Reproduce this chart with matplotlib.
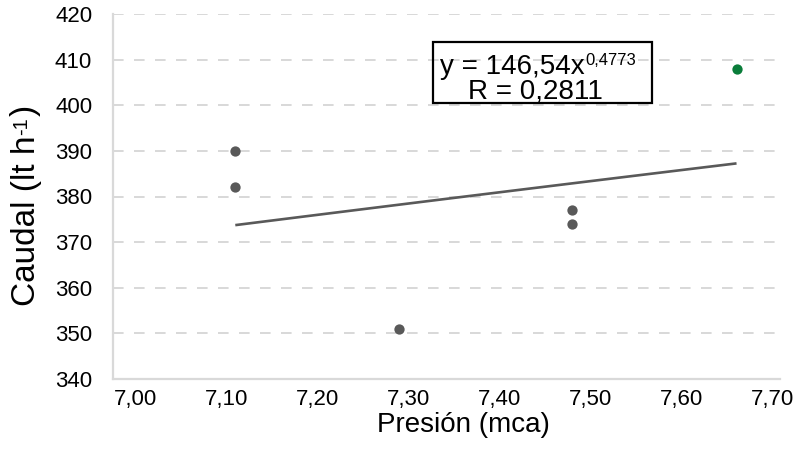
import numpy as np
import matplotlib
matplotlib.use("Agg")
import matplotlib.pyplot as plt
from matplotlib.patches import Rectangle

plt.rcParams['font.family'] = ['Liberation Sans', 'DejaVu Sans']

# Data
presion_gray = [7.11, 7.11, 7.29, 7.48, 7.48]
caudal_gray = [390, 382, 351, 377, 374]
presion_green = [7.66]
caudal_green = [408]

# Power trendline coefficients (as shown on chart)
coef_a = 146.54
coef_b = 0.4773
eq_main = "y = 146,54x"
eq_exp = "0,4773"
r_text = "R = 0,2811"

xticks = [7.00, 7.10, 7.20, 7.30, 7.40, 7.50, 7.60, 7.70]
xtick_labels = ["7,00", "7,10", "7,20", "7,30", "7,40", "7,50", "7,60", "7,70"]
yticks = [340, 350, 360, 370, 380, 390, 400, 410, 420]
ytick_labels = [str(v) for v in yticks]

W, H = 796, 453
fig = plt.figure(figsize=(W / 100, H / 100), dpi=100)
L, R, T, B = 113, 780, 14, 379
ax = fig.add_axes([L / W, 1 - B / H, (R - L) / W, (B - T) / H])

ax.set_xlim(6.9758, 7.7077)
ax.set_ylim(340, 420)

grid_col = '#d9d9d9'
for v in yticks[1:]:
    ax.axhline(v, color=grid_col, lw=1.44, linestyle=(0, (5.3, 5.2)), zorder=1)

for s in ['top', 'right']:
    ax.spines[s].set_visible(False)
for s in ['left', 'bottom']:
    ax.spines[s].set_color(grid_col)
    ax.spines[s].set_linewidth(1.6)

ax.set_xticks(xticks)
ax.set_xticklabels(xtick_labels)
ax.set_yticks(yticks)
ax.set_yticklabels(ytick_labels)
ax.tick_params(axis='both', length=0, labelsize=16, colors='black')
ax.tick_params(axis='x', pad=7)
ax.tick_params(axis='y', pad=15)

# trendline across data range
allx = np.array(presion_gray + presion_green)
xt = np.linspace(allx.min(), allx.max(), 100)
ax.plot(xt, coef_a * xt ** coef_b, color='#595959', lw=1.9, zorder=2, solid_capstyle='butt')

ax.scatter(presion_gray, caudal_gray, s=55, color='#595959', zorder=3, linewidths=0)
ax.scatter(presion_green, caudal_green, s=55, color='#0a7d3a', zorder=3, linewidths=0)

# equation box
def px2ax(x, y):
    return (x - L) / (R - L), (B - y) / (B - T)

x0, y0 = px2ax(433, 103)
x1, y1 = px2ax(652, 42)
ax.add_patch(Rectangle((x0, y0), x1 - x0, y1 - y0, transform=ax.transAxes,
                       fill=False, edgecolor='black', lw=1.6, zorder=4))
tx, ty = px2ax(440, 74)
t_main = ax.text(tx, ty, eq_main, transform=ax.transAxes, fontsize=20,
                 ha='left', va='baseline', zorder=5)
ax.annotate(eq_exp, xy=(1, 0), xycoords=t_main, xytext=(0.5, 10.5),
            textcoords='offset points', fontsize=12, ha='left', va='baseline', zorder=5)
tx2, ty2 = px2ax(535, 98)
ax.text(tx2, ty2, r_text, transform=ax.transAxes, fontsize=20, ha='center', va='baseline', zorder=5)

# y label with superscript built from texts
ylab = fig.text(26 / W, 1 - 221 / H, "Caudal (lt h", rotation=90,
                ha='center', va='center', fontsize=24)
ax.annotate("-1", xy=(0, 1), xycoords=ylab, xytext=(1.5, 0.5), textcoords='offset points',
            rotation=90, fontsize=14.5, ha='left', va='bottom', annotation_clip=False)
ax.annotate(")", xy=(0, 1), xycoords=ylab, xytext=(-0.5, 14.5), textcoords='offset points',
            rotation=90, fontsize=24, ha='left', va='bottom', annotation_clip=False)
fig.text(463 / W, 1 - 425 / H, "Presión (mca)", ha='center', va='center', fontsize=20)

fig.savefig("out.png", dpi=100)
